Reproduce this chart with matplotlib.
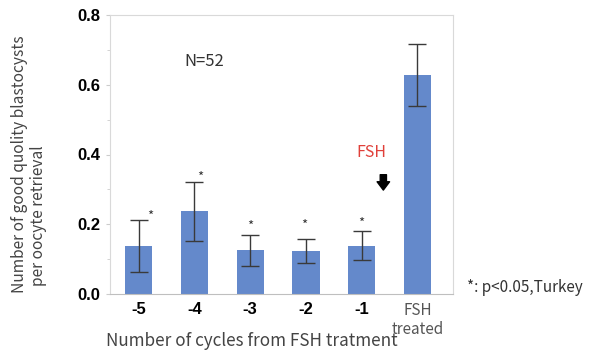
import matplotlib.pyplot as plt
from matplotlib.ticker import MultipleLocator

categories = ['-5', '-4', '-3', '-2', '-1', 'FSH\ntreated']
means = [0.138, 0.238, 0.127, 0.124, 0.139, 0.628]
err_upper = [0.213, 0.322, 0.170, 0.158, 0.182, 0.718]
err_lower = [0.062, 0.151, 0.081, 0.088, 0.097, 0.540]
star_x_offset = [0.2, 0.1, 0.0, -0.03, 0.0]
star_y = [0.222, 0.334, 0.193, 0.197, 0.203]

label_font = ['Noto Sans CJK JP', 'DejaVu Sans']
grey_txt = '#444444'

fig = plt.figure(figsize=(5.9, 3.51), dpi=100)
ax = fig.add_axes([110 / 590, 1 - 294 / 351, 343 / 590, 279 / 351])

x = list(range(len(categories)))
yerr = [[m - lo for m, lo in zip(means, err_lower)],
        [hi - m for m, hi in zip(means, err_upper)]]
ax.bar(x, means, width=0.49, color='#6489cb', zorder=2)
ax.errorbar(x, means, yerr=yerr, fmt='none', ecolor='#3a3a3a',
            elinewidth=1.0, capsize=6.8, capthick=1.0, zorder=3)

for i, (dx, sy) in enumerate(zip(star_x_offset, star_y)):
    ax.text(i + dx, sy, '*', ha='center', va='center', fontsize=9.5,
            color='#333333', family=label_font)

ax.set_xlim(-0.515, 5.64)
ax.set_ylim(0, 0.8)
ax.yaxis.set_minor_locator(MultipleLocator(0.1))
ax.set_yticks([0.0, 0.2, 0.4, 0.6, 0.8])
ax.set_yticklabels(['0.0', '0.2', '0.4', '0.6', '0.8'],
                   fontsize=12, fontweight='bold', family='Liberation Sans')
ax.set_xticks(x)
ax.set_xticklabels(categories)
for lbl in ax.get_xticklabels()[:5]:
    lbl.set_fontsize(12)
    lbl.set_fontweight('bold')
    lbl.set_family('Liberation Sans')
last = ax.get_xticklabels()[5]
last.set_fontsize(11)
last.set_family(label_font)
last.set_color('#555555')
last.set_linespacing(1.1)

ax.tick_params(axis='x', length=0, pad=6)
ax.tick_params(axis='y', which='major', length=3, color='#cccccc', pad=4)
ax.tick_params(axis='y', which='minor', length=2, color='#cccccc')

for side in ['left', 'right', 'top']:
    ax.spines[side].set_color('#d9d9d9')
ax.spines['bottom'].set_color('#bfbfbf')

ax.text(1.17, 0.667, 'N=52', ha='center', va='center', fontsize=12,
        color='#333333', family=label_font)
ax.text(4.18, 0.406, 'FSH', ha='center', va='center', fontsize=11.5,
        color='#e0403a', family=label_font)
ax.annotate('', xy=(4.39, 0.29), xytext=(4.39, 0.35),
            arrowprops=dict(arrowstyle='simple,head_width=0.9,head_length=0.6,tail_width=0.45',
                            color='black'))

fig.text(29 / 590, 1 - 293 / 351,
         'Number of good quolity blastocysts\n  per oocyte retrieval',
         rotation=90, ha='center', va='bottom', multialignment='left',
         fontsize=11.2, color=grey_txt, family=label_font, linespacing=1.15)
fig.text(252 / 590, 1 - 341 / 351, 'Number of cycles from FSH tratment',
         ha='center', va='center', fontsize=12.3, color=grey_txt, family=label_font)
fig.text(467 / 590, 1 - 287 / 351, '*: p<0.05,Turkey', ha='left', va='center',
         fontsize=11, color='#333333', family=label_font)

fig.savefig('out.png', dpi=100)
